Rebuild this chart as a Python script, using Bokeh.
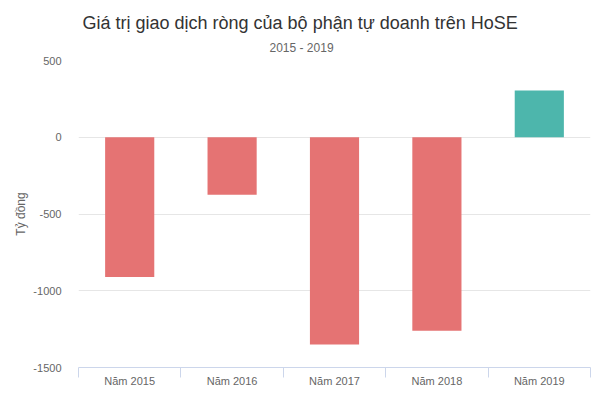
from bokeh.plotting import figure
from bokeh.models import Range1d, FixedTicker, Title
from bokeh.embed import file_html
from bokeh.resources import INLINE

title_text = "Giá trị giao dịch ròng của bộ phận tự doanh trên HoSE"
subtitle_text = "2015 - 2019"
categories = ["Năm 2015", "Năm 2016", "Năm 2017", "Năm 2018", "Năm 2019"]
values = [-910, -375, -1350, -1260, 305]
y_ticks = [-1500, -1000, -500, 0, 500]
y_tick_labels = ["-1500", "-1000", "-500", "0", "500"]

NEG = "#e57373"
POS = "#4db6ac"
FONT = "Liberation Sans"

xs = [i + 0.5 for i in range(len(categories))]
colors = [POS if v >= 0 else NEG for v in values]

p = figure(frame_width=512, frame_height=307, output_backend="svg", toolbar_location=None,
           x_range=Range1d(0, len(categories)), y_range=Range1d(-1500, 500),
           min_border_left=78, min_border_right=10, min_border_top=60, min_border_bottom=20,
           title=None)
p.outline_line_color = None
p.background_fill_color = "white"
p.border_fill_color = "white"

p.vbar(x=xs, top=values, bottom=0, width=0.48, fill_color=colors, line_color=None)

sub = Title(text=subtitle_text, align="left", text_font=FONT, text_font_size="12px",
            text_color="#666666", text_font_style="normal", standoff=10, offset=191,
            vertical_align="middle")
p.add_layout(sub, "above")
main = Title(text=title_text, align="left", text_font=FONT, text_font_size="18px",
             text_color="#333333", text_font_style="normal", standoff=4, offset=4)
p.add_layout(main, "above")

# x axis
p.xaxis.ticker = FixedTicker(ticks=xs, minor_ticks=list(range(len(categories) + 1)))
p.xaxis.major_label_overrides = {x: c for x, c in zip(xs, categories)}
p.xaxis.major_tick_out = 0
p.xaxis.major_tick_in = 0
p.xaxis.minor_tick_out = 10
p.xaxis.minor_tick_in = 0
p.xaxis.minor_tick_line_color = "#ccd6eb"
p.xaxis.axis_line_color = "#ccd6eb"
p.xaxis.major_label_text_color = "#666666"
p.xaxis.major_label_text_font = FONT
p.xaxis.major_label_text_font_size = "11px"
p.xaxis.major_label_standoff = -3
p.xgrid.grid_line_color = None

# y axis
p.yaxis.ticker = FixedTicker(ticks=y_ticks)
p.yaxis.major_label_overrides = {t: s for t, s in zip(y_ticks, y_tick_labels)}
p.yaxis.axis_line_color = None
p.yaxis.major_tick_line_color = None
p.yaxis.minor_tick_line_color = None
p.yaxis.major_label_text_color = "#666666"
p.yaxis.major_label_text_font = FONT
p.yaxis.major_label_text_font_size = "11px"
p.yaxis.major_label_standoff = 11
p.yaxis.axis_label = "Tỷ đồng"
p.yaxis.axis_label_text_font = FONT
p.yaxis.axis_label_text_font_size = "12px"
p.yaxis.axis_label_text_font_style = "normal"
p.yaxis.axis_label_text_color = "#666666"
p.yaxis.axis_label_standoff = 2
p.ygrid.grid_line_color = "#e6e6e6"

open("out.html", "w").write(file_html(p, INLINE))
